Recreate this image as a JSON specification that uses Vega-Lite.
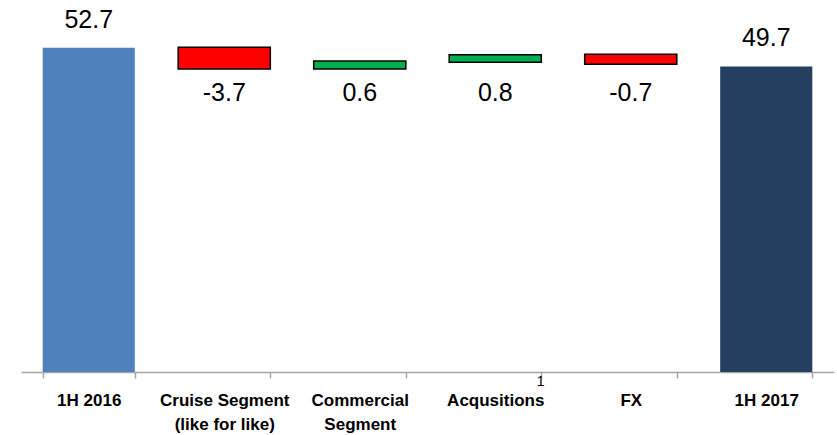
{
  "$schema": "https://vega.github.io/schema/vega-lite/v6.json",
  "autosize": "none",
  "width": 813,
  "height": 372,
  "padding": {"left": 21, "top": 0, "right": 3, "bottom": 63},
  "background": "white",
  "config": {"view": {"stroke": null}},
  "data": {
    "values": [
      {"step": "1H 2016", "kind": "start", "start": 0, "end": 52.7, "value": "52.7"},
      {"step": "Cruise Segment\n(like for like)", "kind": "decrease", "start": 52.75, "end": 49.23, "value": "-3.7"},
      {"step": "Commercial\nSegment", "kind": "increase", "start": 49.23, "end": 50.53, "value": "0.6"},
      {"step": "Acqusitions", "kind": "increase", "start": 50.32, "end": 51.55, "value": "0.8", "note": "1"},
      {"step": "FX", "kind": "decrease", "start": 51.62, "end": 49.99, "value": "-0.7"},
      {"step": "1H 2017", "kind": "end", "start": 0, "end": 49.65, "value": "49.7"}
    ]
  },
  "encoding": {
    "x": {
      "field": "step",
      "type": "nominal",
      "sort": null,
      "scale": {"paddingInner": 0.32, "paddingOuter": 0.16},
      "axis": {
        "title": null,
        "labelAngle": 0,
        "labelExpr": "split(datum.label, '\\n')",
        "labelFont": "Liberation Sans",
        "labelFontWeight": "bold",
        "labelFontSize": 17,
        "labelColor": "black",
        "labelLineHeight": 24,
        "labelPadding": 14,
        "tickBand": "extent",
        "tickSize": 6,
        "tickColor": "#a6a6a6",
        "tickWidth": 1.5,
        "domainColor": "#a6a6a6",
        "domainWidth": 1.5
      }
    }
  },
  "layer": [
    {
      "mark": {"type": "bar", "stroke": "black"},
      "encoding": {
        "y": {
          "field": "start",
          "type": "quantitative",
          "scale": {"domain": [0, 60.44], "nice": false},
          "axis": null
        },
        "y2": {"field": "end"},
        "color": {
          "field": "kind",
          "type": "nominal",
          "scale": {
            "domain": ["start", "decrease", "increase", "end"],
            "range": ["#4f81bd", "#ff0000", "#00b050", "#243f60"]
          },
          "legend": null
        },
        "strokeWidth": {
          "condition": {"test": "datum.kind === 'start' || datum.kind === 'end'", "value": 0},
          "value": 1.5
        }
      }
    },
    {
      "transform": [{"filter": "datum.kind === 'start' || datum.kind === 'end'"}],
      "mark": {"type": "text", "font": "Liberation Sans", "fontSize": 25, "fill": "black", "baseline": "alphabetic", "dy": -20},
      "encoding": {
        "y": {"field": "end", "type": "quantitative"},
        "text": {"field": "value"}
      }
    },
    {
      "transform": [{"filter": "datum.kind === 'increase' || datum.kind === 'decrease'"}],
      "mark": {"type": "text", "font": "Liberation Sans", "fontSize": 25, "fill": "black", "baseline": "middle"},
      "encoding": {
        "y": {"datum": 45.4, "type": "quantitative"},
        "text": {"field": "value"}
      }
    },
    {
      "transform": [{"filter": "datum.note"}],
      "mark": {"type": "text", "font": "Liberation Sans", "fontSize": 14, "fill": "black", "baseline": "middle", "dx": 45.5, "dy": 10},
      "encoding": {
        "y": {"datum": 0, "type": "quantitative"},
        "text": {"field": "note"}
      }
    }
  ]
}
